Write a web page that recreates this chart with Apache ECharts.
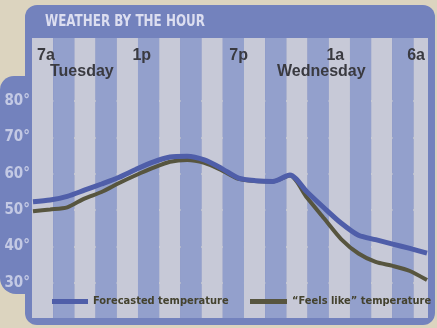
<!DOCTYPE html>
<html>
<head>
<meta charset="utf-8">
<script src="https://cdn.jsdelivr.net/npm/echarts@6/dist/echarts.min.js"></script>
<style>
  html, body { margin: 0; padding: 0; background: #dcd4bf; }
  #chart { width: 437px; height: 328px; }
</style>
</head>
<body>
<div id="chart"></div>
<script>
const titleText = 'WEATHER BY THE HOUR';
const hours = ['7a','8a','9a','10a','11a','12p','1p','2p','3p','4p','5p','6p','7p','8p','9p','10p','11p','12a','1a','2a','3a','4a','5a','6a'];
const tickLabels = ['7a','1p','7p','1a','6a'];
const dayLabels = ['Tuesday','Wednesday'];
const yTicks = [30, 40, 50, 60, 70, 80];
const seriesNames = ['Forecasted temperature', '\u201cFeels like\u201d temperature'];
const forecast = [52.3,52.8,53.8,55.5,57.2,59.0,61.2,63.2,64.6,64.8,63.8,61.5,58.8,58.1,57.9,59.7,55.0,50.6,46.4,43.1,41.9,40.7,39.5,38.2];
const feelsLike = [49.7,50.2,50.8,53.2,55.0,57.4,59.6,61.6,63.3,63.8,63.0,61.0,58.6,58.0,57.9,59.5,53.4,47.7,42.0,38.1,35.8,34.7,33.3,30.8];

const BLUE = '#4f5ea9';
const DARK = '#57553f';
const FRAME = '#7382bd';
const COND = '"DejaVu Sans Condensed", "Liberation Sans", sans-serif';

const chart = echarts.init(document.getElementById('chart'), null, { renderer: 'canvas' });

const shift = { '7a': 'a', '1p': 'r', '1a': 'l', '6a': 'e' };
const legendText = { color: '#44422e', fontSize: 11, fontWeight: 'bold', fontFamily: COND };
const tickStyle = { color: '#3a3a40', fontSize: 16, fontWeight: 'bold', fontFamily: 'Liberation Sans' };

chart.setOption({
  backgroundColor: '#dcd4bf',
  animation: false,
  textStyle: { fontFamily: 'Liberation Sans' },
  graphic: [
    { type: 'rect', z: -10, shape: { x: 25, y: 5, width: 410, height: 320, r: 12 }, style: { fill: FRAME } },
    { type: 'rect', z: -10, shape: { x: 0, y: 76, width: 45, height: 218, r: [14, 0, 0, 16] }, style: { fill: FRAME } },
    { type: 'text', z: 100, x: 45, y: 22, scaleX: 0.83, style: { text: titleText, fill: '#dcdef0', font: 'bold 16px ' + COND, verticalAlign: 'middle' } },
    { type: 'text', z: 100, x: 50, y: 72, style: { text: dayLabels[0], fill: '#3a3a40', font: 'bold 16px "Liberation Sans"', verticalAlign: 'middle' } },
    { type: 'text', z: 100, x: 277, y: 72, style: { text: dayLabels[1], fill: '#3a3a40', font: 'bold 16px "Liberation Sans"', verticalAlign: 'middle' } }
  ],
  grid: [
    { left: 32, right: 9, top: 38, bottom: 10 },
    { left: 33, right: 10, top: 101, bottom: 45 }
  ],
  xAxis: [
    {
      gridIndex: 0, type: 'value', min: 0, max: 18.68, interval: 1,
      axisLine: { show: false }, axisTick: { show: false }, axisLabel: { show: false },
      splitLine: { show: false },
      splitArea: { show: true, areaStyle: { color: ['#c7c9d7', '#93a0cc'] } }
    },
    {
      gridIndex: 1, type: 'category', data: hours, boundaryGap: false, position: 'top',
      axisLine: { show: false }, axisTick: { show: false }, splitLine: { show: false },
      axisLabel: Object.assign({
        margin: 37,
        interval: (i, v) => tickLabels.indexOf(v) >= 0,
        alignMinLabel: 'left', alignMaxLabel: 'right',
        formatter: v => shift[v] ? '{' + shift[v] + '|' + v + '}' : v,
        rich: {
          a: Object.assign({ padding: [0, 0, 0, 4] }, tickStyle),
          r: Object.assign({ padding: [0, 0, 0, 12] }, tickStyle),
          l: Object.assign({ padding: [0, 12, 0, 0] }, tickStyle),
          e: Object.assign({ padding: [0, 2, 0, 0] }, tickStyle)
        }
      }, tickStyle)
    }
  ],
  yAxis: [
    { gridIndex: 0, type: 'value', min: 0, max: 1, show: false, splitLine: { show: false } },
    {
      gridIndex: 1, type: 'value', min: yTicks[0], max: yTicks[yTicks.length - 1], interval: 10,
      axisLine: { show: false }, axisTick: { show: false },
      axisLabel: { margin: 3, color: '#c3c9e4', fontSize: 15, fontWeight: 'bold', fontFamily: COND, formatter: '{value}\u00b0' },
      splitLine: { show: true, lineStyle: { color: '#e9e3c6', width: 2 } }
    }
  ],
  legend: [
    {
      left: 52, top: 296, itemWidth: 36, itemHeight: 5, icon: 'rect', itemGap: 0, padding: 0,
      textStyle: legendText, data: [seriesNames[0]]
    },
    {
      left: 250, top: 296, itemWidth: 37, itemHeight: 5, icon: 'rect', itemGap: 0, padding: 0,
      textStyle: legendText, data: [seriesNames[1]]
    }
  ],
  series: [
    {
      name: seriesNames[1], type: 'line', xAxisIndex: 1, yAxisIndex: 1, data: feelsLike,
      smooth: 0.25, symbol: 'none', clip: false, color: DARK,
      lineStyle: { color: DARK, width: 4 }, z: 3
    },
    {
      name: seriesNames[0], type: 'line', xAxisIndex: 1, yAxisIndex: 1, data: forecast,
      smooth: 0.25, symbol: 'none', clip: false, color: BLUE,
      lineStyle: { color: BLUE, width: 5 }, z: 4
    }
  ]
});
</script>
</body>
</html>
